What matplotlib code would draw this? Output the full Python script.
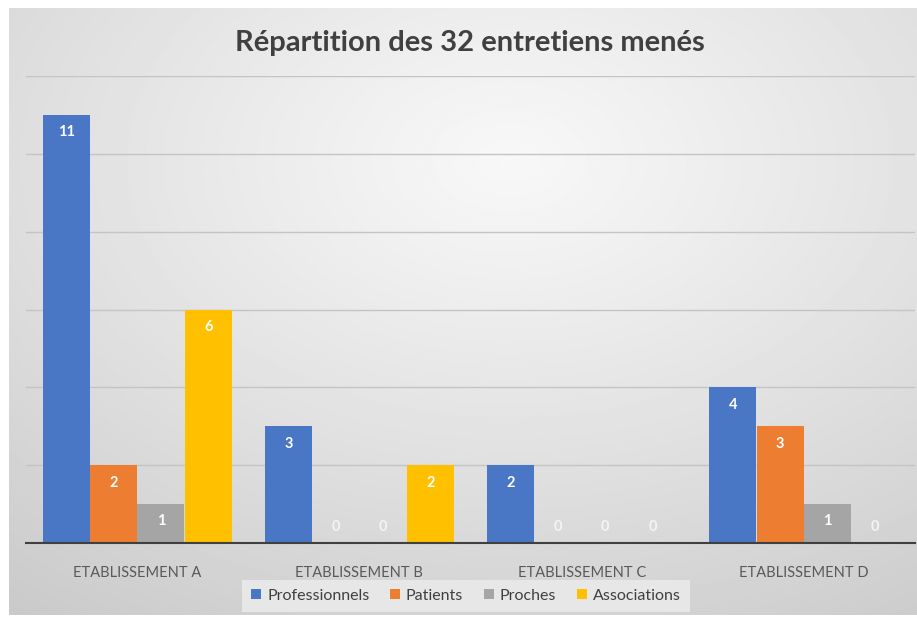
import numpy as np
import matplotlib
matplotlib.use("Agg")
import matplotlib.pyplot as plt

categories = ["ETABLISSEMENT A", "ETABLISSEMENT B", "ETABLISSEMENT C", "ETABLISSEMENT D"]
series_names = ["Professionnels", "Patients", "Proches", "Associations"]
professionnels = [11, 3, 2, 4]
patients = [2, 0, 0, 3]
proches = [1, 0, 0, 1]
associations = [6, 2, 0, 0]
title = "Répartition des 32 entretiens menés"

series = [professionnels, patients, proches, associations]
colors = ["#4a76c6", "#ED7D31", "#A5A5A5", "#FFC000"]

plt.rcParams['font.family'] = ['Lato', 'DejaVu Sans']

fig = plt.figure(figsize=(9.17, 6.19), dpi=100)
fig.patch.set_facecolor("white")

# gradient background
bg = fig.add_axes([9/917, 4/619, 908/917, 607/619])
bg.set_axis_off()
h, w = 300, 450
yy, xx = np.mgrid[0:h, 0:w]
cx, cy = 0.55 * w, 0.25 * h
d = np.sqrt(((xx - cx) / w) ** 2 + ((yy - cy) / h) ** 2)
d = d / d.max()
light, dark = 0.97, 0.79
img = light - (light - dark) * d ** 1.1
bg.imshow(img, cmap="gray", vmin=0, vmax=1, aspect="auto", extent=[0, 1, 0, 1], zorder=0)
bg.set_xlim(0, 1); bg.set_ylim(0, 1)

ax = fig.add_axes([26/917, 1 - 543/619, 889/917, (543 - 76)/619])
ax.patch.set_alpha(0)
n = len(series)
bw = 0.213
x = np.arange(len(categories))
for i, (vals, c, name) in enumerate(zip(series, colors, series_names)):
    pos = x + (i - (n - 1) / 2) * bw
    ax.bar(pos, vals, width=bw * 0.99, color=c, label=name, zorder=3)
    for xp, v in zip(pos, vals):
        if v > 0:
            ax.annotate(str(v), (xp, v), xytext=(0, -12.5), textcoords="offset points",
                        ha="center", va="center", color="white", fontsize=10.5,
                        fontweight="bold", zorder=4)
        else:
            ax.annotate(str(v), (xp, 0), xytext=(0, 11.5), textcoords="offset points",
                        ha="center", va="center", color="#f4f4f4", fontsize=10.5,
                        fontweight="bold", zorder=4)

ax.set_ylim(0, 12)
ax.set_xlim(-0.5, len(categories) - 0.5)
ax.set_yticks([2, 4, 6, 8, 10, 12])
ax.yaxis.grid(True, color="#c4c4c4", linewidth=1, zorder=0)
ax.tick_params(axis="y", left=False, labelleft=False)
ax.tick_params(axis="x", bottom=False, colors="#595959", labelsize=10.5, pad=13)
ax.set_xticks(x)
ax.set_xticklabels(categories)
for s in ["top", "right", "left"]:
    ax.spines[s].set_visible(False)
ax.spines["bottom"].set_color("#404040")
ax.spines["bottom"].set_linewidth(1.5)
ax.spines["bottom"].set_zorder(5)

fig.text(470/917, 1 - 43/619, title, ha="center", va="center", fontsize=21,
         fontweight="bold", color="#404040")

leg = fig.legend(loc="center", bbox_to_anchor=(466/917, 1 - 596/619), ncol=4,
                 frameon=True, fontsize=11.5, handlelength=0.6, handleheight=0.6,
                 handletextpad=0.4, columnspacing=1.3, borderpad=0.55)
leg.get_frame().set_facecolor("#ebebeb")
leg.get_frame().set_edgecolor("none")
leg.get_frame().set_alpha(0.85)
leg.get_frame().set_boxstyle("square", pad=0.0)
for t in leg.get_texts():
    t.set_color("#404040")

fig.savefig("out.png", dpi=100)
